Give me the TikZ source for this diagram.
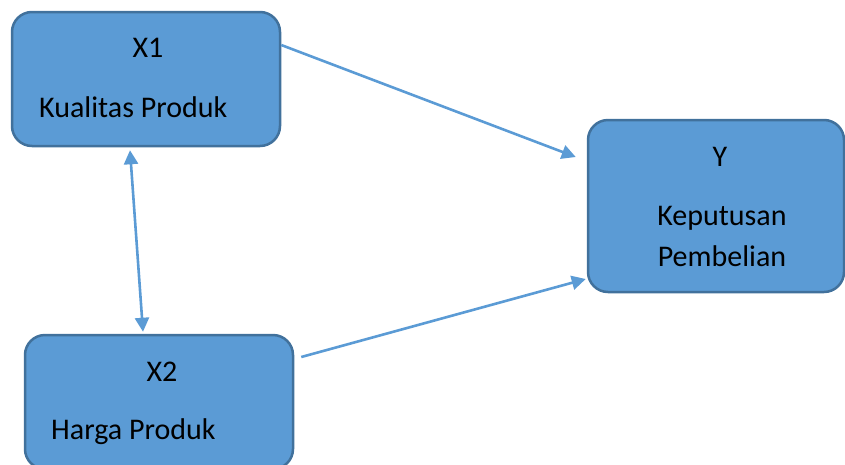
\documentclass[tikz,border=0pt]{standalone}
\usepackage{fontspec}
\setmainfont{Carlito}
\usetikzlibrary{arrows.meta}
\tikzset{>={Triangle[width=14pt,length=14pt]}}
\definecolor{boxblue}{HTML}{5B9BD5}
\definecolor{boxedge}{HTML}{41719C}
\tikzset{varbox/.style={draw=boxedge, fill=boxblue, line width=2.5pt,
    rounded corners=20pt, inner sep=0pt}}
\tikzset{link/.style={draw=boxblue, line width=2.6pt}}
\tikzset{txt/.style={inner sep=0pt, text=black}}

\begin{document}
\begin{tikzpicture}[x=1pt,y=-1pt]

  \useasboundingbox (0,0) rectangle (845,464); %% page
  \clip (0,0) rectangle (845,464);
  \fontsize{30}{36}\selectfont

  %% boxes
  \node[varbox, minimum width=268pt, minimum height=134pt] (x1) at (146,79) {};
  \node[varbox, minimum width=256pt, minimum height=172pt] (y) at (716,206) {};
  \node[varbox, minimum width=268pt, minimum height=134pt] (x2) at (159,402) {};

  %% texts
  \node[txt] (x1 title) at (148,48) {X1};
  \node[txt, anchor=west] (x1 name) at (39,107) {Kualitas Produk};
  \node[txt] (y title) at (720,157) {Y};
  \node[txt] (y name1) at (722,218) {Keputusan};
  \node[txt] (y name2) at (722,256) {Pembelian};
  \node[txt] (x2 title) at (162,372) {X2};
  \node[txt, anchor=west] (x2 name) at (51,432) {Harga Produk};

  %% arrow ends
  \coordinate (x1 out) at ([yshift=34pt]x1.east);
  \coordinate (y in1) at ([xshift=-11pt, yshift=49pt]y.west);
  \coordinate (x2 out) at ([xshift=7pt, yshift=45pt]x2.east);
  \coordinate (y in2) at ([xshift=-1pt, yshift=-73pt]y.west);
  \coordinate (x1 low) at ([xshift=-16pt, yshift=-3pt]x1.south);
  \coordinate (x2 top) at ([xshift=-16pt, yshift=2pt]x2.north);

  \draw[link,->] (x1 out) -- (y in1);
  \draw[link,->] (x2 out) -- (y in2);
  \draw[link,<->] (x1 low) -- (x2 top);

\end{tikzpicture}
\end{document}
